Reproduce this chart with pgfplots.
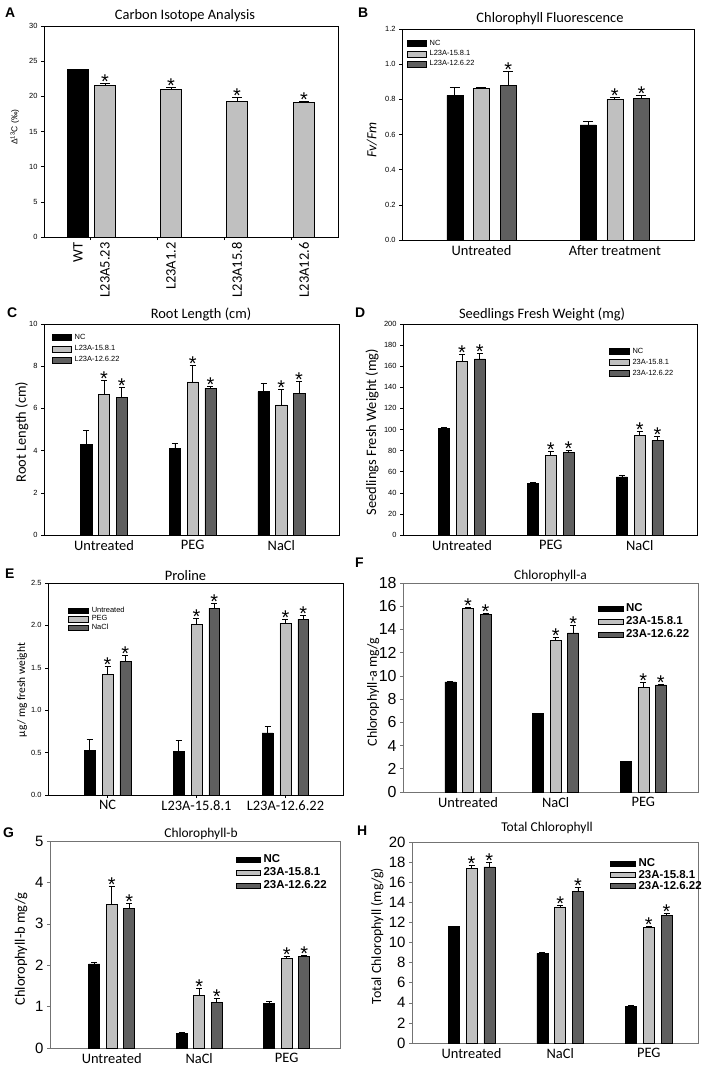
\documentclass[border=0pt]{standalone}
\usepackage{pgfplots}
\pgfplotsset{compat=1.18}
\usepackage{fontspec}
\setmainfont{Carlito}
\newfontfamily\arial{Liberation Sans}
\definecolor{lg}{HTML}{C0C0C0}
\definecolor{dg}{HTML}{5F5F5F}
\newcommand{\fsz}[1]{\fontsize{#1}{#1}\selectfont}

\pgfplotsset{
 base/.style={
  scale only axis,
  axis line style={line width=0.8bp, black},
  tick align=outside, major tick length=3bp,
  ytick pos=left, xtick pos=bottom,
  ytick style={line width=0.6bp, black},
  xtick style={draw=none},
  /pgf/number format/assume math mode=true,
  xticklabel style={font=\fsz{14.5}, yshift=1bp},
  yticklabel style={font=\arial\fsz{7.5}},
  legend cell align=left,
 },
 ttl/.style n args={3}{every axis title/.style={at={(0.5,1)}, anchor=base, inner sep=0pt, font=\fsz{#1}, xshift=#2, yshift=#3}},
 ylab/.style n args={3}{every axis y label/.style={at={(axis description cs:#1,#2)}, rotate=90, anchor=center, inner sep=0pt, font=#3}},
 mybar/.style 2 args={ybar, bar width=#1, bar shift=0pt, draw=black, line width=0.5bp,
   error bars/y dir=plus, error bars/y explicit,
   error bars/error bar style={line width=0.7bp, black, solid},
   error bars/error mark options={rotate=90, line width=0.7bp, black, mark size=#2}},
 star/.style={only marks, mark=none, forget plot, nodes near coords={*},
   every node near coord/.append style={font=\arial\fsz{20}, inner sep=0pt, yshift=-5.3bp, text=black}},
}

\begin{document}
\begin{tikzpicture}
\path[use as bounding box] (0bp,0bp) rectangle (714bp,-1074bp);

% ---------------- A ----------------
\node[anchor=base west, inner sep=0pt, font=\arial\bfseries\fsz{14}] at (5bp,-17bp) {A};
\begin{axis}[base, at={(44bp,-26bp)}, anchor=north west, width=294bp, height=211bp,
  xmin=0, xmax=294, ymin=0, ymax=30, ytick={0,5,...,30},
  xtick={34,61,127,193,260}, xticklabels={WT,L23A5.23,L23A1.2,L23A15.8,L23A12.6},
  xticklabel style={rotate=90, anchor=east, yshift=0bp},
  extra x ticks={46.7,113,180,247}, extra x tick labels={,,,},
  extra x tick style={xtick style={draw=black, line width=0.6bp}},
  ttl={14.5}{-6bp}{6.7bp}, title={Carbon Isotope Analysis},
  ylab={-0.099}{0.52}{\arial\fsz{8.5}}, ylabel={Δ\textsuperscript{13}C (‰)}]
\addplot[mybar={21.3}{5bp}, fill=black] table[x=x,y=y,y error=e]{
x y e
34 23.8 0.05
};
\addplot[mybar={21.3}{5bp}, fill=lg] table[x=x,y=y,y error=e]{
x y e
61 21.55 0.25
127 20.98 0.28
193 19.30 0.50
260 19.17 0.10
};
\addplot[star] table[x=x,y=y]{
x y
61 21.80
127 21.26
193 19.80
260 19.27
};
\end{axis}

% ---------------- B ----------------
\node[anchor=base west, inner sep=0pt, font=\arial\bfseries\fsz{14}] at (358bp,-17bp) {B};
\begin{axis}[base, at={(402bp,-29bp)}, anchor=north west, width=292bp, height=211bp,
  xmin=-0.596, xmax=1.594, ymin=0, ymax=1.2, ytick={0,0.2,...,1.2},
  yticklabel style={/pgf/number format/.cd, fixed, fixed zerofill, precision=1},
  xtick={0,1}, xticklabels={Untreated, After treatment},
  ttl={14.5}{2bp}{6.3bp}, title={Chlorophyll Fluorescence},
  ylab={-0.103}{0.474}{\fsz{14}}, ylabel={\textit{Fv/Fm}},
  legend style={draw=none, fill=none, inner sep=0pt, at={(0.017,0.95)}, anchor=north west,
    font=\arial\fsz{7.5}, row sep=2.5bp, nodes={inner sep=0.5bp},
    /tikz/every odd column/.append style={column sep=2.5bp}},
  legend image code/.code={\draw[#1, line width=0.5bp] (0bp,-3bp) rectangle (19bp,3bp);}]
\addplot[mybar={0.12}{5bp}, fill=black] table[x=x,y=y,y error=e]{
x y e
-0.2 0.822 0.048
0.8 0.655 0.019
};
\addlegendentry{NC}
\addplot[mybar={0.12}{5bp}, fill=lg] table[x=x,y=y,y error=e]{
x y e
0 0.862 0.006
1 0.801 0.012
};
\addlegendentry{L23A-15.8.1}
\addplot[mybar={0.12}{5bp}, fill=dg] table[x=x,y=y,y error=e]{
x y e
0.2 0.879 0.081
1.2 0.807 0.013
};
\addlegendentry{L23A-12.6.22}
\addplot[star] table[x=x,y=y]{
x y
0.2 0.960
1.0 0.813
1.2 0.820
};
\end{axis}

% ---------------- C ----------------
\node[anchor=base west, inner sep=0pt, font=\arial\bfseries\fsz{14}] at (7bp,-317bp) {C};
\begin{axis}[base, at={(44bp,-324bp)}, anchor=north west, width=295bp, height=211bp,
  xmin=-0.677, xmax=2.65, ymin=0, ymax=10, ytick={0,2,...,10},
  xtick={0,1,2}, xticklabels={Untreated,PEG,NaCl},
  ttl={14.5}{9.5bp}{5.7bp}, title={Root Length (cm)},
  ylab={-0.075}{0.488}{\fsz{14.5}}, ylabel={Root Length (cm)},
  legend style={draw=none, fill=none, inner sep=0pt, at={(0.027,0.955)}, anchor=north west,
    font=\arial\fsz{7.5}, row sep=3.5bp, nodes={inner sep=0.5bp},
    /tikz/every odd column/.append style={column sep=2.5bp}},
  legend image code/.code={\draw[#1, line width=0.5bp] (0bp,-3bp) rectangle (19bp,3bp);}]
\addplot[mybar={0.128}{3bp}, fill=black] table[x=x,y=y,y error=e]{
x y e
-0.2 4.29 0.65
0.8 4.09 0.24
1.8 6.79 0.38
};
\addlegendentry{NC}
\addplot[mybar={0.128}{3bp}, fill=lg] table[x=x,y=y,y error=e]{
x y e
0 6.68 0.65
1 7.26 0.76
2 6.17 0.71
};
\addlegendentry{L23A-15.8.1}
\addplot[mybar={0.128}{3bp}, fill=dg] table[x=x,y=y,y error=e]{
x y e
0.2 6.51 0.49
1.2 6.96 0.10
2.2 6.71 0.55
};
\addlegendentry{L23A-12.6.22}
\addplot[star] table[x=x,y=y]{
x y
0 7.33
1 8.02
2 6.88
0.2 7.00
1.2 7.06
2.2 7.26
};
\end{axis}

% ---------------- D ----------------
\node[anchor=base west, inner sep=0pt, font=\arial\bfseries\fsz{14}] at (355bp,-317bp) {D};
\begin{axis}[base, at={(403bp,-324bp)}, anchor=north west, width=294bp, height=211bp,
  xmin=-0.664, xmax=2.645, ymin=0, ymax=200, ytick={0,20,...,200},
  xtick={0,1,2}, xticklabels={Untreated,PEG,NaCl},
  ttl={14.5}{-8bp}{5.7bp}, title={Seedlings Fresh Weight (mg)},
  ylab={-0.105}{0.488}{\fsz{14.5}}, ylabel={Seedlings Fresh Weight (mg)},
  legend style={draw=none, fill=none, inner sep=0pt, at={(0.70,0.89)}, anchor=north west,
    font=\arial\fsz{7.5}, row sep=3.5bp, nodes={inner sep=0.5bp},
    /tikz/every odd column/.append style={column sep=2.5bp}},
  legend image code/.code={\draw[#1, line width=0.5bp] (0bp,-3bp) rectangle (20bp,3bp);}]
\addplot[mybar={0.124}{3bp}, fill=black] table[x=x,y=y,y error=e]{
x y e
-0.2 101.4 0.8
0.8 48.6 1.6
1.8 55.0 1.8
};
\addlegendentry{NC}
\addplot[mybar={0.124}{3bp}, fill=lg] table[x=x,y=y,y error=e]{
x y e
0 164.8 6.0
1 75.8 3.2
2 94.7 3.5
};
\addlegendentry{23A-15.8.1}
\addplot[mybar={0.124}{3bp}, fill=dg] table[x=x,y=y,y error=e]{
x y e
0.2 167.0 5.4
1.2 78.6 1.9
2.2 89.7 3.4
};
\addlegendentry{23A-12.6.22}
\addplot[star] table[x=x,y=y]{
x y
0 170.8
1 79.0
2 98.2
0.2 172.4
1.2 80.5
2.2 93.1
};
\end{axis}

% ---------------- E ----------------
\node[anchor=base west, inner sep=0pt, font=\arial\bfseries\fsz{14}] at (5bp,-578bp) {E};
\begin{axis}[base, at={(48bp,-583bp)}, anchor=north west, width=295bp, height=212bp,
  xmin=-0.669, xmax=2.647, ymin=0, ymax=2.5, ytick={0,0.5,...,2.5},
  yticklabel style={/pgf/number format/.cd, fixed, fixed zerofill, precision=1},
  xtick={0,1,2}, xticklabels={NC,L23A-15.8.1,L23A-12.6.22},
  xtick style={draw=black, line width=0.6bp},
  ttl={14.5}{-10bp}{2.3bp}, title={Proline},
  ylab={-0.088}{0.495}{\fsz{11.5}}, ylabel={µg/ mg fresh weight},
  legend style={draw=none, fill=none, inner sep=0pt, at={(0.068,0.89)}, anchor=north west,
    font=\arial\fsz{7.5}, row sep=0.8bp, nodes={inner sep=0.5bp},
    /tikz/every odd column/.append style={column sep=2.5bp}},
  legend image code/.code={\draw[#1, line width=0.5bp] (0bp,-2.7bp) rectangle (20bp,2.7bp);}]
\addplot[mybar={0.123}{3bp}, fill=black] table[x=x,y=y,y error=e]{
x y e
-0.2 0.524 0.130
0.8 0.516 0.126
1.8 0.732 0.075
};
\addlegendentry{Untreated}
\addplot[mybar={0.123}{3bp}, fill=lg] table[x=x,y=y,y error=e]{
x y e
0 1.425 0.087
1 2.016 0.067
2 2.028 0.047
};
\addlegendentry{PEG}
\addplot[mybar={0.123}{3bp}, fill=dg] table[x=x,y=y,y error=e]{
x y e
0.2 1.575 0.075
1.2 2.205 0.055
2.2 2.075 0.047
};
\addlegendentry{NaCl}
\addplot[star] table[x=x,y=y]{
x y
0 1.512
1 2.083
2 2.075
0.2 1.650
1.2 2.260
2.2 2.122
};
\end{axis}

% ---------------- F ----------------
\node[anchor=base west, inner sep=0pt, font=\arial\bfseries\fsz{14}] at (355bp,-567bp) {F};
\begin{axis}[base, at={(403bp,-583bp)}, anchor=north west, width=295bp, height=209bp,
  axis line style={draw=black!55},
  ytick style={draw=black!55},
  xmin=-0.741, xmax=2.624, ymin=0, ymax=18, ytick={0,2,...,18},
  yticklabel style={font=\arial\fsz{16}},
  xtick={0,1,2}, xticklabels={Untreated,NaCl,PEG},
  ttl={13.5}{0bp}{3.7bp}, title={Chlorophyll-a},
  ylab={-0.101}{0.478}{\fsz{14}}, ylabel={Chlorophyll-a mg/g},
  legend style={draw=none, fill=none, inner sep=0pt, at={(0.659,0.905)}, anchor=north west,
    font=\arial\bfseries\fsz{11.5}, row sep=2.5bp, nodes={inner sep=0.5bp},
    /tikz/every odd column/.append style={column sep=2.5bp}},
  legend image code/.code={\draw[#1, line width=0.5bp] (0bp,-2.5bp) rectangle (25bp,2.5bp);}]
\addplot[mybar={0.125}{3bp}, fill=black] table[x=x,y=y,y error=e]{
x y e
-0.2 9.48 0.05
0.8 6.74 0.03
1.8 2.62 0.03
};
\addlegendentry{NC}
\addplot[mybar={0.125}{3bp}, fill=lg] table[x=x,y=y,y error=e]{
x y e
0 15.81 0.06
1 13.08 0.25
2 8.99 0.46
};
\addlegendentry{23A-15.8.1}
\addplot[mybar={0.125}{3bp}, fill=dg] table[x=x,y=y,y error=e]{
x y e
0.2 15.32 0.08
1.2 13.71 0.63
2.2 9.22 0.05
};
\addlegendentry{23A-12.6.22}
\addplot[star] table[x=x,y=y]{
x y
0 15.87
1 13.33
2 9.45
0.2 15.40
1.2 14.34
2.2 9.27
};
\end{axis}

% ---------------- G ----------------
\node[anchor=base west, inner sep=0pt, font=\arial\bfseries\fsz{14}] at (3bp,-837bp) {G};
\begin{axis}[base, at={(50bp,-841bp)}, anchor=north west, width=290bp, height=207bp,
  axis line style={draw=black!55},
  ytick style={draw=black!55},
  xmin=-0.705, xmax=2.61, ymin=0, ymax=5, ytick={0,1,...,5},
  yticklabel style={font=\arial\fsz{15}},
  xtick={0,1,2}, xticklabels={Untreated,NaCl,PEG},
  ttl={13.5}{6bp}{3.7bp}, title={Chlorophyll-b},
  ylab={-0.1}{0.478}{\fsz{14.5}}, ylabel={Chlorophyll-b mg/g},
  legend style={draw=none, fill=none, inner sep=0pt, at={(0.641,0.937)}, anchor=north west,
    font=\arial\bfseries\fsz{11.5}, row sep=2.5bp, nodes={inner sep=0.5bp},
    /tikz/every odd column/.append style={column sep=2.5bp}},
  legend image code/.code={\draw[#1, line width=0.5bp] (0bp,-2.5bp) rectangle (24bp,2.5bp);}]
\addplot[mybar={0.126}{3bp}, fill=black] table[x=x,y=y,y error=e]{
x y e
-0.2 2.03 0.03
0.8 0.345 0.032
1.8 1.07 0.05
};
\addlegendentry{NC}
\addplot[mybar={0.126}{3bp}, fill=lg] table[x=x,y=y,y error=e]{
x y e
0 3.47 0.43
1 1.27 0.17
2 2.16 0.05
};
\addlegendentry{23A-15.8.1}
\addplot[mybar={0.126}{3bp}, fill=dg] table[x=x,y=y,y error=e]{
x y e
0.2 3.38 0.11
1.2 1.11 0.09
2.2 2.22 0.02
};
\addlegendentry{23A-12.6.22}
\addplot[star] table[x=x,y=y]{
x y
0 3.90
1 1.44
2 2.21
0.2 3.49
1.2 1.20
2.2 2.24
};
\end{axis}

% ---------------- H ----------------
\node[anchor=base west, inner sep=0pt, font=\arial\bfseries\fsz{14}] at (357bp,-835bp) {H};
\begin{axis}[base, at={(412bp,-842bp)}, anchor=north west, width=286bp, height=201bp,
  axis line style={draw=black!55},
  ytick style={draw=black!55},
  xmin=-0.672, xmax=2.555, ymin=0, ymax=20, ytick={0,2,...,20},
  yticklabel style={font=\arial\fsz{15}},
  xtick={0,1,2}, xticklabels={Untreated,NaCl,PEG},
  ttl={13.5}{-8bp}{10.3bp}, title={Total Chlorophyll},
  ylab={-0.122}{0.532}{\fsz{14}}, ylabel={Total Chlorophyll (mg/g)},
  legend style={draw=none, fill=none, inner sep=0pt, at={(0.692,0.92)}, anchor=north west,
    font=\arial\bfseries\fsz{11.5}, row sep=0.8bp, nodes={inner sep=0.5bp},
    /tikz/every odd column/.append style={column sep=2.5bp}},
  legend image code/.code={\draw[#1, line width=0.5bp] (0bp,-2.5bp) rectangle (25bp,2.5bp);}]
\addplot[mybar={0.124}{3bp}, fill=black] table[x=x,y=y,y error=e]{
x y e
-0.2 11.57 0.03
0.8 8.93 0.05
1.8 3.64 0.06
};
\addlegendentry{NC}
\addplot[mybar={0.124}{3bp}, fill=lg] table[x=x,y=y,y error=e]{
x y e
0 17.36 0.29
1 13.55 0.14
2 11.50 0.07
};
\addlegendentry{23A-15.8.1}
\addplot[mybar={0.124}{3bp}, fill=dg] table[x=x,y=y,y error=e]{
x y e
0.2 17.52 0.43
1.2 15.10 0.37
2.2 12.69 0.20
};
\addlegendentry{23A-12.6.22}
\addplot[star] table[x=x,y=y]{
x y
0 17.65
1 13.69
2 11.57
0.2 17.95
1.2 15.47
2.2 12.89
};
\end{axis}
\end{tikzpicture}
\end{document}
